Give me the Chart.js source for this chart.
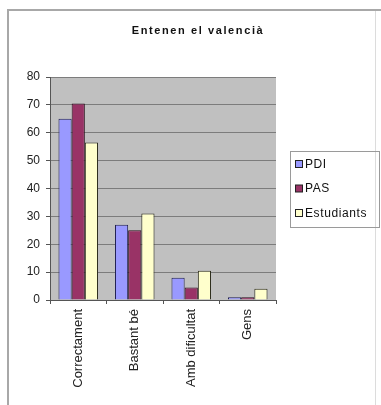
<!DOCTYPE html>
<html>
<head>
<meta charset="utf-8">
<script src="https://cdn.jsdelivr.net/npm/chart.js@4"></script>
<style>
  html, body { margin: 0; padding: 0; background: #ffffff; }
  canvas { display: block; }
</style>
</head>
<body>
<canvas id="chart" width="381" height="405"></canvas>
<script>
// Enquesta: "Entenen el valencià" per col·lectiu (%)
const title = 'Entenen el valencià';
const categories = ['Correctament', 'Bastant bé', 'Amb dificultat', 'Gens'];
const pdi = [65, 27, 8, 1];
const pas = [70.5, 25, 4.5, 1];
const estudiants = [56.5, 31, 10.5, 4];
const yTicks = [0, 10, 20, 30, 40, 50, 60, 70, 80];

const FONT = '"Liberation Sans", Arial, sans-serif';

// Gray plot area background (Excel style) plus the outer frame, title and boxed legend
const decorations = {
    id: 'decorations',
    beforeDraw(chart) {
        const { ctx, chartArea: a } = chart;
        ctx.save();
        ctx.fillStyle = '#ffffff';
        ctx.fillRect(0, 0, chart.width, chart.height);
        ctx.fillStyle = '#c0c0c0';
        ctx.fillRect(a.left, a.top, a.right - a.left, a.bottom - a.top);
        ctx.restore();
    },
    afterDraw(chart) {
        const { ctx } = chart;
        ctx.save();

        // outer frame
        ctx.strokeStyle = '#a8a8a8';
        ctx.lineWidth = 2;
        ctx.beginPath();
        ctx.moveTo(8, chart.height);
        ctx.lineTo(8, 10);
        ctx.lineTo(chart.width, 10);
        ctx.stroke();
        ctx.strokeStyle = '#dcdcdc';
        ctx.lineWidth = 1;
        ctx.beginPath();
        ctx.moveTo(375.5, 11);
        ctx.lineTo(375.5, chart.height);
        ctx.stroke();

        // title
        ctx.fillStyle = '#111111';
        ctx.font = 'bold 11px ' + FONT;
        ctx.letterSpacing = '1.6px';
        ctx.textAlign = 'center';
        ctx.textBaseline = 'middle';
        ctx.fillText(title, 198, 31);
        ctx.letterSpacing = '0px';

        // legend box
        const lx = 290, ly = 151, lw = 89, lh = 76;
        ctx.strokeStyle = '#9a9a9a';
        ctx.lineWidth = 1;
        ctx.strokeRect(lx + 0.5, ly + 0.5, lw, lh);
        ctx.font = '12px ' + FONT;
        ctx.letterSpacing = '0.6px';
        ctx.textAlign = 'left';
        chart.data.datasets.forEach((ds, i) => {
            const cy = 164 + i * 24.5;
            ctx.fillStyle = ds.backgroundColor;
            ctx.fillRect(295.5, cy - 3.5, 7, 7);
            ctx.strokeStyle = '#222222';
            ctx.strokeRect(295.5, cy - 3.5, 7, 7);
            ctx.fillStyle = '#111111';
            ctx.fillText(ds.label, 305, cy + 0.5);
        });
        ctx.restore();
    }
};

new Chart(document.getElementById('chart'), {
    type: 'bar',
    data: {
        labels: categories,
        datasets: [
            { label: 'PDI', data: pdi, backgroundColor: '#9999ff', borderColor: '#1f1f50' },
            { label: 'PAS', data: pas, backgroundColor: '#993366', borderColor: '#2a0f1c' },
            { label: 'Estudiants', data: estudiants, backgroundColor: '#ffffcc', borderColor: '#2b2b1a' }
        ]
    },
    options: {
        responsive: false,
        animation: false,
        layout: { padding: { left: 10, right: 105, top: 77, bottom: 0 } },
        datasets: {
            bar: { borderWidth: 1, categoryPercentage: 0.7, barPercentage: 1.0 }
        },
        plugins: {
            legend: { display: false },
            title: { display: false },
            tooltip: { enabled: false }
        },
        scales: {
            x: {
                afterFit(scale) { scale.height = 105; },
                grid: {
                    offset: true,
                    drawOnChartArea: false,
                    drawTicks: true,
                    tickLength: 4,
                    tickColor: '#555555'
                },
                border: { color: '#555555', width: 1 },
                ticks: {
                    minRotation: 90,
                    maxRotation: 90,
                    padding: 5,
                    color: '#222222',
                    font: { family: FONT, size: 13 }
                }
            },
            y: {
                min: 0,
                max: 80,
                afterFit(scale) { scale.width = 40; },
                afterBuildTicks(scale) { scale.ticks = yTicks.map(v => ({ value: v })); },
                grid: {
                    color: '#7c7c7c',
                    tickColor: '#555555',
                    tickLength: 4
                },
                border: { color: '#555555', width: 1 },
                ticks: {
                    padding: 6,
                    color: '#222222',
                    font: { family: FONT, size: 12 }
                }
            }
        }
    },
    plugins: [decorations]
});
</script>
</body>
</html>
